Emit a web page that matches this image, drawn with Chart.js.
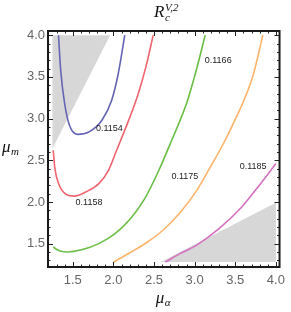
<!DOCTYPE html>
<html>
<head>
<meta charset="utf-8">
<script src="https://cdn.jsdelivr.net/npm/chart.js@4.4.1/dist/chart.umd.min.js"></script>
<style>
  html, body { margin: 0; padding: 0; background: #fff; }
  #wrap { width: 291px; height: 312px; }
</style>
</head>
<body>
<div id="wrap"><canvas id="c" width="291" height="312"></canvas></div>
<script>
// tick labels
const xTicks = [1.5, 2.0, 2.5, 3.0, 3.5, 4.0];
const yTicks = [1.5, 2.0, 2.5, 3.0, 3.5, 4.0];

// contour levels and their traced points (mu_alpha, mu_m)
const levels = ['0.1154', '0.1158', '0.1166', '0.1175', '0.1185'];
const c1154 = [[1.324, 4.0], [1.351, 3.58], [1.40, 3.18], [1.459, 2.92], [1.56, 2.81],
  [1.70, 2.84], [1.859, 2.98], [1.979, 3.22], [2.06, 3.54], [2.14, 4.0]];
const c1158 = [[1.259, 2.62], [1.28, 2.40], [1.33, 2.21], [1.42, 2.09], [1.52, 2.07],
  [1.66, 2.12], [1.82, 2.22], [1.94, 2.38], [2.04, 2.62], [2.18, 2.96], [2.30, 3.28],
  [2.40, 3.62], [2.49, 4.0]];
const c1166 = [[1.26, 1.46], [1.32, 1.42], [1.42, 1.40], [1.62, 1.43], [1.82, 1.50],
  [2.02, 1.62], [2.22, 1.81], [2.38, 2.03], [2.56, 2.38], [2.70, 2.70], [2.90, 3.18],
  [3.02, 3.58], [3.13, 4.0]];
const c1175 = [[2.0, 1.28], [2.22, 1.40], [2.42, 1.52], [2.62, 1.67], [2.80, 1.85],
  [3.02, 2.13], [3.20, 2.43], [3.36, 2.71], [3.50, 2.99], [3.62, 3.25], [3.72, 3.52],
  [3.84, 4.0]];
const c1185 = [[2.64, 1.28], [2.82, 1.38], [3.02, 1.48], [3.30, 1.68], [3.58, 1.94],
  [3.78, 2.18], [4.0, 2.46]];

// excluded (gray) regions
const grayTop = [[1.25, 4.0], [1.96, 4.0], [1.25, 2.64], [1.25, 4.0]];
const grayBottom = [[2.58, 1.28], [4.0, 1.28], [4.0, 1.99], [2.58, 1.28]];

// where the level labels sit
const labelPos = [[1.95, 2.88], [1.70, 1.99], [3.29, 3.70], [2.88, 2.31], [3.72, 2.42]];

const colors = ['#6464b4', '#f0646e', '#6abe45', '#fcb36a', '#d670c0'];
const curves = [c1154, c1158, c1166, c1175, c1185];

const pts = arr => arr.map(([x, y]) => ({ x, y }));

const datasets = [];
[grayTop, grayBottom].forEach(g => datasets.push({
  data: pts(g), showLine: true, fill: 'shape', backgroundColor: '#d7d7d7',
  borderWidth: 0, pointRadius: 0, tension: 0, order: 5
}));
curves.forEach((c, i) => datasets.push({
  label: levels[i], data: pts(c), showLine: true, fill: false,
  borderColor: colors[i], borderWidth: 1.6, pointRadius: 0,
  cubicInterpolationMode: 'monotone', order: 1
}));

const frame = {
  id: 'frame',
  afterDraw(chart) {
    const { ctx, chartArea: a, scales: { x, y } } = chart;
    ctx.save();
    // contour labels
    ctx.fillStyle = '#222';
    ctx.font = '9px "Liberation Sans", Arial, sans-serif';
    ctx.textAlign = 'center';
    ctx.textBaseline = 'middle';
    labelPos.forEach(([lx, ly], i) => ctx.fillText(levels[i], x.getPixelForValue(lx), y.getPixelForValue(ly)));

    // ticks pointing inward, on all four sides
    ctx.strokeStyle = '#222';
    ctx.lineWidth = 1;
    for (let k = 12; k <= 40; k++) {
      const v = k / 10;
      const major = k % 5 === 0;
      const len = major ? 5 : 2.5;
      const px = Math.round(x.getPixelForValue(v)) + 0.5;
      const py = Math.round(y.getPixelForValue(v)) + 0.5;
      ctx.beginPath();
      if (v >= x.min && v <= x.max) {
        ctx.moveTo(px, a.bottom); ctx.lineTo(px, a.bottom - len);
        ctx.moveTo(px, a.top); ctx.lineTo(px, a.top + len);
      }
      if (v >= y.min && v <= y.max) {
        ctx.moveTo(a.left, py); ctx.lineTo(a.left + len, py);
        ctx.moveTo(a.right, py); ctx.lineTo(a.right - len, py);
      }
      ctx.stroke();
    }
    ctx.lineWidth = 2;
    ctx.strokeStyle = '#1a1a1a';
    ctx.strokeRect(a.left, a.top, a.right - a.left, a.bottom - a.top);

    // title R_c^{V,2}
    ctx.fillStyle = '#111';
    ctx.textAlign = 'left';
    ctx.textBaseline = 'alphabetic';
    ctx.font = 'italic 17px "Liberation Serif", "DejaVu Serif", serif';
    ctx.fillText('R', 154, 17);
    ctx.font = 'italic 11px "Liberation Serif", "DejaVu Serif", serif';
    ctx.fillText('V,2', 165, 11);
    ctx.fillText('c', 165, 21);

    // axis titles
    const mid = (a.left + a.right) / 2;
    ctx.font = 'italic 17px "Liberation Serif", "DejaVu Serif", serif';
    ctx.fillText('\u03bc', mid - 8, 303);
    ctx.font = 'italic 11px "Liberation Serif", "DejaVu Serif", serif';
    ctx.fillText('\u03b1', mid + 1, 306);
    ctx.font = 'italic 17px "Liberation Serif", "DejaVu Serif", serif';
    ctx.fillText('\u03bc', 2, 152);
    ctx.font = 'italic 11px "Liberation Serif", "DejaVu Serif", serif';
    ctx.fillText('m', 11, 155);
    ctx.restore();
  }
};

new Chart(document.getElementById('c'), {
  type: 'scatter',
  data: { datasets },
  options: {
    responsive: false,
    animation: false,
    layout: { padding: { top: 31, right: 5, left: 0, bottom: 0 } },
    plugins: { legend: { display: false }, tooltip: { enabled: false } },
    scales: {
      x: {
        type: 'linear', min: 1.195, max: 4.045,
        grid: { display: false, drawTicks: false },
        border: { display: false },
        afterBuildTicks: s => { s.ticks = xTicks.map(v => ({ value: v })); },
        afterFit: s => { s.height = 45; },
        ticks: {
          padding: 6, color: '#666', maxRotation: 0,
          font: { size: 13, family: '"Liberation Sans", Arial, sans-serif' },
          callback: v => v.toFixed(1)
        }
      },
      y: {
        type: 'linear', min: 1.22, max: 4.05,
        grid: { display: false, drawTicks: false },
        border: { display: false },
        afterBuildTicks: s => { s.ticks = yTicks.map(v => ({ value: v })); },
        afterFit: s => { s.width = 48; },
        ticks: {
          padding: 3, color: '#666',
          font: { size: 13, family: '"Liberation Sans", Arial, sans-serif' },
          callback: v => v.toFixed(1)
        }
      }
    }
  },
  plugins: [frame]
});
</script>
</body>
</html>
